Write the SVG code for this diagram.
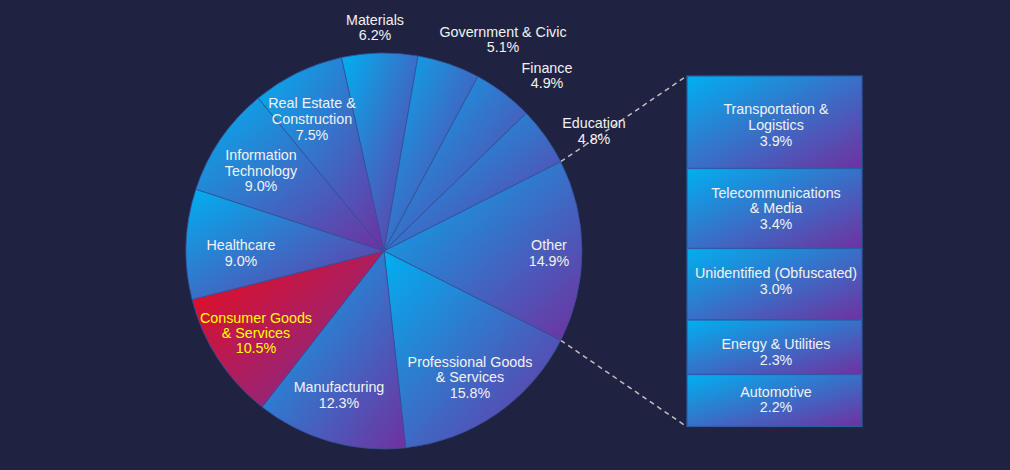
<svg xmlns="http://www.w3.org/2000/svg" width="1010" height="470" viewBox="0 0 1010 470">
<defs>
<linearGradient id="gb" x1="0" y1="0" x2="1" y2="1">
<stop offset="0" stop-color="#00b0f0"/>
<stop offset="1" stop-color="#7030a0"/>
</linearGradient>
<linearGradient id="gr" x1="0" y1="0" x2="1" y2="1">
<stop offset="0" stop-color="#ee0a18"/>
<stop offset="1" stop-color="#7030a0"/>
</linearGradient>
</defs>
<style>
.s{fill:url(#gb);stroke:#34509a;stroke-width:0.8;stroke-linejoin:round}
.sr{fill:url(#gr);stroke:#34509a;stroke-width:0.8;stroke-linejoin:round}
.b{fill:url(#gb);stroke:#2a5ba3;stroke-width:1.2}
.t{font-family:"Liberation Sans",Arial,sans-serif;font-size:14.3px;fill:#f2f2f2;text-anchor:middle}
.ty{font-family:"Liberation Sans",Arial,sans-serif;font-size:14.3px;fill:#ffff00;text-anchor:middle}
.c{fill:none;stroke:#bfbfbf;stroke-width:1.5;stroke-dasharray:5 4}
</style>
<rect width="1010" height="470" fill="#1f2341"/>

<g id="connectors">
<line class="c" x1="560.7" y1="161.7" x2="686.7" y2="76"/>
<line class="c" x1="560.7" y1="340.3" x2="686.7" y2="426.7"/>
</g>

<g id="professional">
<path class="s" d="M384,251 L560.7,340.3 A198,198 0 0 1 405.7,447.8 Z"/>
<text class="t" x="470" y="366.5">Professional Goods</text>
<text class="t" x="470" y="382">&amp; Services</text>
<text class="t" x="470" y="397.5">15.8%</text>
</g>
<g id="manufacturing">
<path class="s" d="M384,251 L405.7,447.8 A198,198 0 0 1 262.1,407 Z"/>
<text class="t" x="339" y="392">Manufacturing</text>
<text class="t" x="339" y="407.5">12.3%</text>
</g>
<g id="consumer">
<path class="sr" d="M384,251 L262.1,407 A198,198 0 0 1 192.1,299.6 Z"/>
<text class="ty" x="256" y="322.5">Consumer Goods</text>
<text class="ty" x="256" y="337.5">&amp; Services</text>
<text class="ty" x="256" y="353">10.5%</text>
</g>
<g id="healthcare">
<path class="s" d="M384,251 L192.1,299.6 A198,198 0 0 1 195.9,189.2 Z"/>
<text class="t" x="241" y="250">Healthcare</text>
<text class="t" x="241" y="265.5">9.0%</text>
</g>
<g id="it">
<path class="s" d="M384,251 L195.9,189.2 A198,198 0 0 1 258.2,98.1 Z"/>
<text class="t" x="261" y="160">Information</text>
<text class="t" x="261" y="175.5">Technology</text>
<text class="t" x="261" y="190.5">9.0%</text>
</g>
<g id="materials">
<path class="s" d="M384,251 L341.4,57.6 A198,198 0 0 1 418,56 Z"/>
<text class="t" x="375" y="25">Materials</text>
<text class="t" x="375" y="40">6.2%</text>
</g>
<g id="government">
<path class="s" d="M384,251 L418,56 A198,198 0 0 1 477.8,76.6 Z"/>
<text class="t" x="503" y="36.5">Government &amp; Civic</text>
<text class="t" x="503" y="51.5">5.1%</text>
</g>
<g id="finance">
<path class="s" d="M384,251 L477.8,76.6 A198,198 0 0 1 526.2,113.2 Z"/>
<text class="t" x="547" y="73">Finance</text>
<text class="t" x="547" y="88">4.9%</text>
</g>
<g id="education">
<path class="s" d="M384,251 L526.2,113.2 A198,198 0 0 1 560.7,161.7 Z"/>
<text class="t" x="594" y="128">Education</text>
<text class="t" x="594" y="144">4.8%</text>
</g>
<g id="other">
<path class="s" d="M384,251 L560.7,161.7 A198,198 0 0 1 560.7,340.3 Z"/>
<text class="t" x="549" y="249.5">Other</text>
<text class="t" x="549" y="265.5">14.9%</text>
</g>
<g id="realestate">
<path class="s" d="M384,251 L258.2,98.1 A198,198 0 0 1 341.4,57.6 Z"/>
<text class="t" x="312" y="108">Real Estate &amp;</text>
<text class="t" x="312" y="124">Construction</text>
<text class="t" x="312" y="140">7.5%</text>
</g>

<g id="transportation">
<rect class="b" x="687" y="76" width="175" height="92.5"/>
<text class="t" x="776" y="114">Transportation &amp;</text>
<text class="t" x="776" y="129.5">Logistics</text>
<text class="t" x="776" y="145.5">3.9%</text>
</g>
<g id="telecom">
<rect class="b" x="687" y="168.5" width="175" height="80"/>
<text class="t" x="776" y="198">Telecommunications</text>
<text class="t" x="776" y="213">&amp; Media</text>
<text class="t" x="776" y="229">3.4%</text>
</g>
<g id="unidentified">
<rect class="b" x="687" y="248.5" width="175" height="71.5"/>
<text class="t" x="776" y="278">Unidentified (Obfuscated)</text>
<text class="t" x="776" y="294">3.0%</text>
</g>
<g id="energy">
<rect class="b" x="687" y="320" width="175" height="54.5"/>
<text class="t" x="776" y="349">Energy &amp; Utilities</text>
<text class="t" x="776" y="365">2.3%</text>
</g>
<g id="automotive">
<rect class="b" x="687" y="374.5" width="175" height="52"/>
<text class="t" x="776" y="396.5">Automotive</text>
<text class="t" x="776" y="411.5">2.2%</text>
</g>
</svg>
